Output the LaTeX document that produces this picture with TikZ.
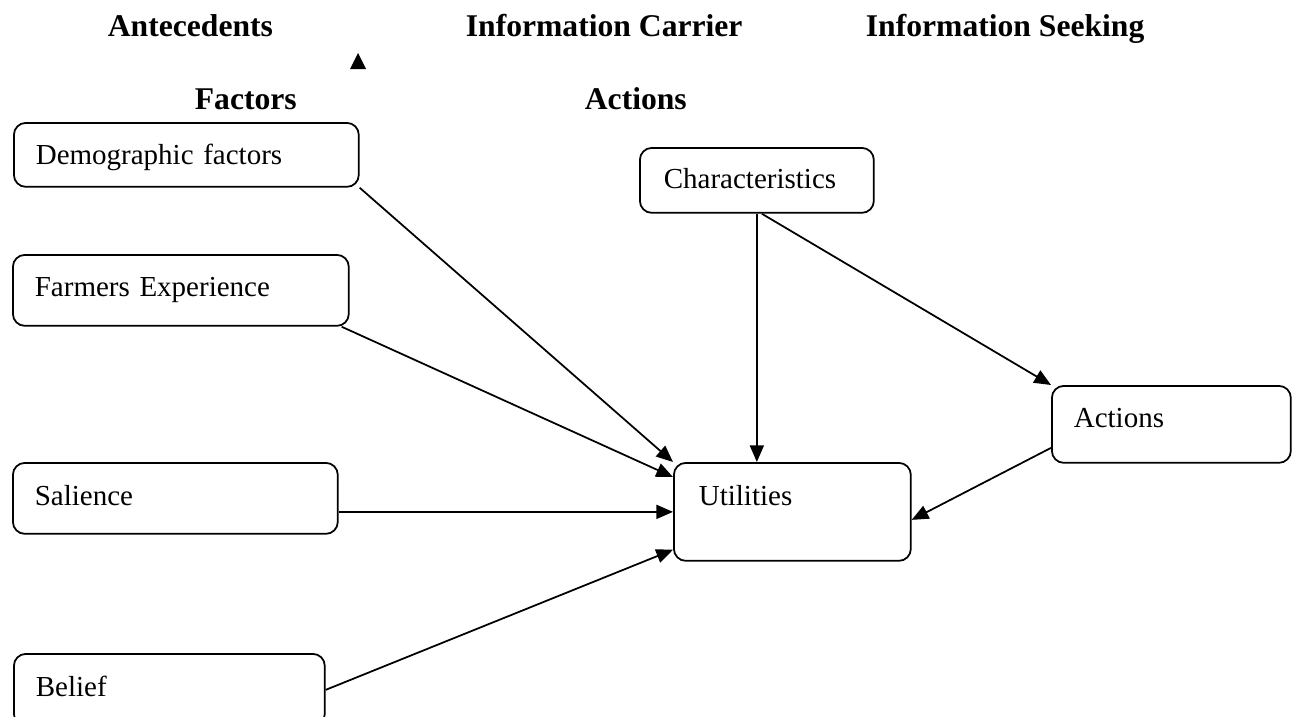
\documentclass[tikz,border=0pt]{standalone}
\usepackage{fontspec}
\setmainfont{Liberation Serif}
\usetikzlibrary{arrows.meta}

\begin{document}
\begin{tikzpicture}[x=0.02cm, y=-0.02cm, line width=1pt,
		box/.style = {draw, rounded corners=0.24cm, anchor=north west, align=left, inner xsep=0.44cm, inner ysep=0pt, font=\fontsize{16.5}{19}\selectfont},
		head/.style = {anchor=base west, inner sep=0pt, font=\fontsize{18}{21}\selectfont\bfseries},
		arr/.style = {-{Triangle[length=9.5pt, width=8pt]}}]

		\useasboundingbox (0,0) rectangle (1296,717);

		% column titles
		\node[head] (antec) at (107,36) {Antecedents};
		\node[head] (carrier) at (465,36) {Information Carrier};
		\node[head] (seeking) at (865,36) {Information Seeking};
		\node[head] (factors) at (194,109) {Factors};
		\node[head] (actions) at (584,109) {Actions};
		\fill (350,69) -- (358,53) -- (366,69) -- cycle;

		% boxes
		\node[box, text width=6.02cm, text height=0.84cm, text depth=0.44cm] (demo) at (13,122) {Demographic factors};
		\node[box, text width=5.84cm, text height=0.84cm, text depth=0.58cm] (farm) at (12,254) {Farmers Experience};
		\node[box, text width=5.62cm, text height=0.86cm, text depth=0.56cm] (sal) at (12,462) {Salience};
		\node[box, text width=5.34cm, text height=0.86cm, text depth=0.58cm] (bel) at (13,653) {Belief};
		\node[box, inner xsep=0.48cm, text width=3.72cm, text height=0.82cm, text depth=0.48cm] (char) at (639,147) {Characteristics};
		\node[box, text width=3.9cm, text height=0.84cm, text depth=0.7cm] (act) at (1051,385) {Actions};
		\node[box, inner xsep=0.5cm, text width=3.74cm, text height=0.86cm, text depth=1.1cm] (util) at (673,462) {Utilities};

		% arrows
		\draw[arr] (demo.south east) -- (util.north west);
		\draw[arr] ([xshift=-0.16cm]farm.south east) -- ([yshift=-0.3cm]util.north west);
		\draw[arr] (sal.east |- util.west) -- (util.west);
		\draw[arr] (bel.east) -- ([yshift=0.24cm]util.south west);
		\draw[arr] (char.south) -- (char.south |- util.north);
		\draw[arr] ([xshift=0.1cm]char.south) -- (act.north west);
		\draw[arr] ([yshift=-0.47cm]act.west) -- ([yshift=-0.16cm]util.east);
	\end{tikzpicture}
\end{document}
